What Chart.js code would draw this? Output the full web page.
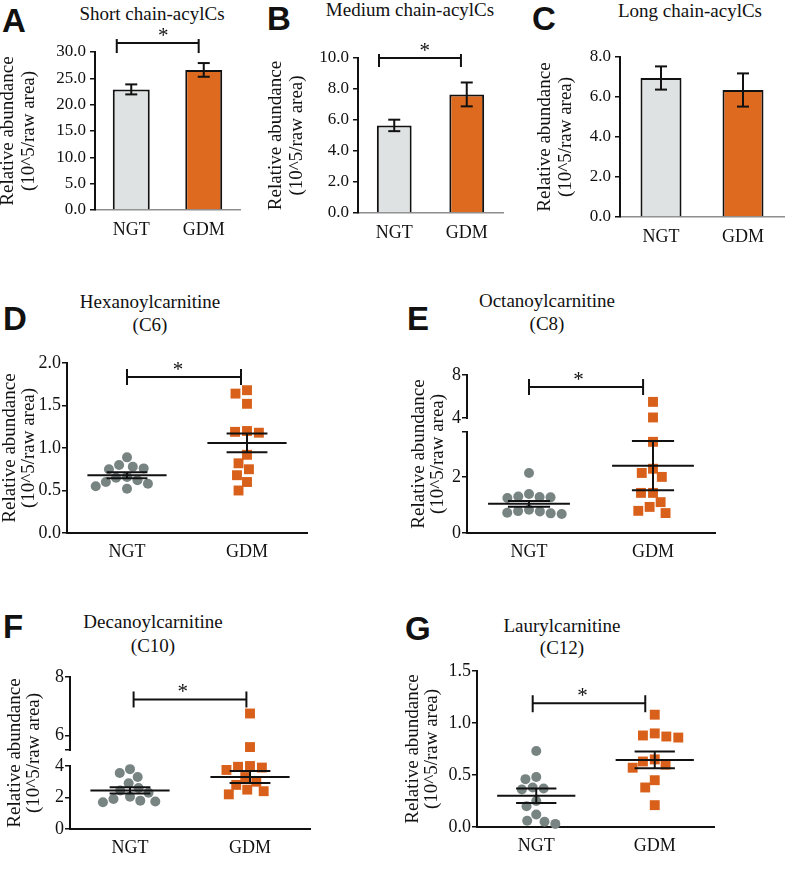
<!DOCTYPE html>
<html>
<head>
<meta charset="utf-8">
<title>Acylcarnitines NGT vs GDM</title>
<script src="https://cdn.jsdelivr.net/npm/chart.js@4.4.1/dist/chart.umd.min.js"></script>
<style>
  html, body { margin: 0; padding: 0; background: #fff; }
  #page { position: relative; width: 792px; height: 869px; overflow: hidden; background: #fff; }
  #page canvas { position: absolute; }
  .letter { position: absolute; font: bold 33px "Liberation Sans", Arial, sans-serif; line-height: 33px; color: #111; white-space: nowrap; }
  .title { position: absolute; font: 19px "Liberation Serif", "Times New Roman", serif; line-height: 19px; color: #111; white-space: nowrap; transform: translateX(-50%); }
</style>
</head>
<body>
<div id="page"></div>
<script>
const groups = ['NGT', 'GDM'];

// A-C bar panels: mean and SEM
const shortMean = [22.9, 26.6];
const shortSem = [0.95, 1.3];
const mediumMean = [5.65, 7.65];
const mediumSem = [0.37, 0.77];
const longMean = [6.95, 6.35];
const longSem = [0.58, 0.83];

// D-G dot plots: one value per subject, then mean and SEM
const c6Ngt = [0.89, 0.80, 0.78, 0.76, 0.75, 0.66, 0.65, 0.62, 0.60, 0.58, 0.55, 0.52];
const c6Gdm = [1.68, 1.64, 1.52, 1.20, 1.19, 1.18, 0.92, 0.82, 0.75, 0.68, 0.60, 0.50];
const c6Mean = [0.68, 1.06];
const c6Sem = [0.035, 0.11];

const c8Ngt = [2.14, 1.39, 1.30, 1.28, 1.27, 1.25, 0.83, 0.78, 0.77, 0.72, 0.70, 0.68];
const c8Gdm = [5.5, 4.05, 3.25, 2.29, 2.14, 2.0, 1.43, 1.43, 1.1, 0.93, 0.79, 0.71];
const c8Mean = [1.04, 2.4];
const c8Sem = [0.1, 0.88];

const c10Ngt = [3.8, 3.55, 3.3, 2.9, 2.6, 2.45, 2.3, 2.05, 1.9, 1.8, 1.75, 1.7];
const c10Gdm = [6.75, 5.6, 4.0, 3.95, 3.9, 3.75, 3.3, 3.0, 2.8, 2.5, 2.4, 2.2];
const c10Mean = [2.45, 3.3];
const c10Sem = [0.2, 0.38];

const c12Ngt = [0.73, 0.48, 0.46, 0.38, 0.37, 0.36, 0.25, 0.20, 0.12, 0.06, 0.05, 0.03];
const c12Gdm = [1.08, 0.90, 0.88, 0.87, 0.86, 0.65, 0.63, 0.60, 0.57, 0.45, 0.38, 0.21];
const c12Mean = [0.30, 0.645];
const c12Sem = [0.07, 0.08];

// y tick labels
const shortTicks = [0, 5, 10, 15, 20, 25, 30];
const mediumTicks = [0, 2, 4, 6, 8, 10];
const longTicks = [0, 2, 4, 6, 8];
const c6Ticks = [0, 0.5, 1, 1.5, 2];
const c8Ticks = [0, 2, 4, 8];
const c10Ticks = [0, 2, 4, 6, 8];
const c12Ticks = [0, 0.5, 1, 1.5];

const GRAY_BAR = '#dee2e2';
const ORANGE_BAR = '#de6a20';
const GRAY_DOT = '#788482';
const ORANGE_DOT = '#d9601a';
const INK = '#111';
const SERIF = '"Liberation Serif", "Times New Roman", serif';

Chart.defaults.font.family = SERIF;
Chart.defaults.color = INK;

// panel layout (positions in page pixels)
const panels = [
  { kind: 'bar', letter: 'A', at: [2, 32], titles: [['Short chain-acylCs', 152, 20]],
    mean: shortMean, sem: shortSem, ticks: shortTicks, barFrac: 0.51,
    box: { left: -2, top: 0, width: 264, height: 250, yW: 97, padTop: 52, padRight: 22, xH: 40, xPad: 9, tick: 17, tPad: 4, lh: 21 },
    sig: { x1: -0.2, x2: 0.93, y: 31.7, star: 0.44, up: 4, down: 10 } },
  { kind: 'bar', letter: 'B', at: [267, 30], titles: [['Medium chain-acylCs', 410, 16]],
    mean: mediumMean, sem: mediumSem, ticks: mediumTicks, barFrac: 0.48,
    box: { left: 266, top: 0, width: 250, height: 250, yW: 92, padTop: 58, padRight: 13, xH: 37, xPad: 9, tick: 17, tPad: 4, lh: 21 },
    sig: { x1: -0.21, x2: 0.92, y: 10.0, star: 0.42, up: 4, down: 9 } },
  { kind: 'bar', letter: 'C', at: [532, 30], titles: [['Long chain-acylCs', 690, 17]],
    mean: longMean, sem: longSem, ticks: longTicks, barFrac: 0.5,
    box: { left: 535, top: 0, width: 257, height: 250, yW: 85, padTop: 57, padRight: 8, xH: 33, xPad: 9, tick: 17, tPad: 4, lh: 21 } },
  { kind: 'dot', letter: 'D', at: [3, 330], titles: [['Hexanoylcarnitine', 150, 308], ['(C6)', 150, 331]],
    ngt: c6Ngt, gdm: c6Gdm, mean: c6Mean, sem: c6Sem, ticks: c6Ticks, dec: 1,
    segs: [{ lo: 0, hi: 2, px: 170 }], gap: 0,
    box: { left: 1, top: 250, width: 321, height: 320, yW: 66, padTop: 113, padRight: 15, xH: 37, xPad: 8, tick: 18, tPad: 1, lh: 19 },
    sig: { x1: 1.0, x2: 1.95, y: 1.835, star: 1.425, up: 8, down: 8 } },
  { kind: 'dot', letter: 'E', at: [407, 330], titles: [['Octanoylcarnitine', 547, 307], ['(C8)', 547, 330]],
    ngt: c8Ngt, gdm: c8Gdm, mean: c8Mean, sem: c8Sem, ticks: c8Ticks, dec: 0,
    segs: [{ lo: 0, hi: 3.6, px: 101 }, { lo: 4, hi: 8, px: 43 }], gap: 14,
    box: { left: 410, top: 250, width: 320, height: 320, yW: 57, padTop: 125, padRight: 15, xH: 37, xPad: 8, tick: 18, tPad: 1, lh: 19 },
    sig: { x1: 1.0, x2: 1.92, y: 6.88, star: 1.40, up: 8, down: 8 } },
  { kind: 'dot', letter: 'F', at: [3, 638], titles: [['Decanoylcarnitine', 153, 628], ['(C10)', 153, 652]],
    ngt: c10Ngt, gdm: c10Gdm, mean: c10Mean, sem: c10Sem, ticks: c10Ticks, dec: 0,
    segs: [{ lo: 0, hi: 4, px: 63 }, { lo: 5.5, hi: 8, px: 73 }], gap: 16,
    box: { left: 6, top: 560, width: 319, height: 305, yW: 64, padTop: 117, padRight: 15, xH: 36, xPad: 8, tick: 18, tPad: 1, lh: 19 },
    sig: { x1: 1.03, x2: 1.97, y: 7.23, star: 1.44, up: 8, down: 8 } },
  { kind: 'dot', letter: 'G', at: [405, 640], titles: [['Laurylcarnitine', 562, 632], ['(C12)', 562, 654]],
    ngt: c12Ngt, gdm: c12Gdm, mean: c12Mean, sem: c12Sem, ticks: c12Ticks, dec: 1,
    segs: [{ lo: 0, hi: 1.5, px: 156 }], gap: 0,
    box: { left: 404, top: 560, width: 325, height: 305, yW: 73, padTop: 111, padRight: 15, xH: 38, xPad: 8, tick: 18, tPad: 1, lh: 19 },
    sig: { x1: 0.97, x2: 1.92, y: 1.19, star: 1.39, up: 8, down: 9 } },
];

const page = document.getElementById('page');

// value -> axis units (pixels), skipping the break between segments
const makeAxisMap = (segs, gap) => (v) => {
  let base = 0;
  for (let i = 0; i < segs.length; i++) {
    const s = segs[i];
    if (v <= s.hi || i === segs.length - 1) return base + (v - s.lo) / (s.hi - s.lo) * s.px;
    base += s.px + gap;
  }
  return base;
};

// simple beeswarm: offsets in px so dots don't overlap
const swarm = (ys, diam) => {
  const order = ys.map((_, i) => i).sort((a, b) => ys[b] - ys[a]);
  const placed = [];
  const xs = [];
  order.forEach((i) => {
    const y = ys[i];
    const spans = placed
      .filter((q) => Math.abs(q.y - y) < diam)
      .map((q) => {
        const dx = Math.sqrt(diam * diam - (q.y - y) ** 2);
        return [q.x - dx, q.x + dx];
      });
    const cands = [0];
    spans.forEach(([a, b]) => cands.push(a, b));
    cands.sort((a, b) => Math.abs(a) - Math.abs(b) || a - b);
    const x = cands.find((c) => spans.every(([a, b]) => c <= a + 1e-6 || c >= b - 1e-6));
    xs[i] = x;
    placed.push({ x, y });
  });
  return xs;
};

const marks = (p) => ({
  id: 'marks' + p.letter,
  afterDatasetsDraw(chart) {
    const { ctx, chartArea } = chart;
    const x = chart.scales.x;
    const y = chart.scales.y;
    const line = (x1, y1, x2, y2) => {
      ctx.beginPath();
      ctx.moveTo(x1, y1);
      ctx.lineTo(x2, y2);
      ctx.stroke();
    };
    ctx.save();
    ctx.strokeStyle = INK;
    ctx.fillStyle = INK;
    ctx.lineWidth = 2;

    if (p.kind === 'bar') {
      p.mean.forEach((m, i) => {
        const cx = x.getPixelForValue(i);
        const top = y.getPixelForValue(m + p.sem[i]);
        const bot = y.getPixelForValue(m - p.sem[i]);
        line(cx, top, cx, bot);
        line(cx - 6, top, cx + 6, top);
        line(cx - 6, bot, cx + 6, bot);
      });
    } else {
      // y axis, one piece per segment
      p.segs.forEach((s) => {
        line(chartArea.left, y.getPixelForValue(p.u(s.lo)) + 1, chartArea.left, y.getPixelForValue(p.u(s.hi)) - 1);
      });
      // mean and SEM
      p.mean.forEach((m, i) => {
        const c = i + 1;
        const my = y.getPixelForValue(p.u(m));
        const top = y.getPixelForValue(p.u(m + p.sem[i]));
        const bot = y.getPixelForValue(p.u(m - p.sem[i]));
        line(x.getPixelForValue(c - 0.33), my, x.getPixelForValue(c + 0.33), my);
        line(x.getPixelForValue(c), top, x.getPixelForValue(c), bot);
        line(x.getPixelForValue(c - 0.17), top, x.getPixelForValue(c + 0.17), top);
        line(x.getPixelForValue(c - 0.17), bot, x.getPixelForValue(c + 0.17), bot);
      });
    }

    // significance bracket
    if (p.sig) {
      const s = p.sig;
      const by = y.getPixelForValue(p.u(s.y));
      const bx1 = x.getPixelForValue(s.x1);
      const bx2 = x.getPixelForValue(s.x2);
      line(bx1, by, bx2, by);
      line(bx1, by - s.up, bx1, by + s.down);
      line(bx2, by - s.up, bx2, by + s.down);
      ctx.font = '21px ' + SERIF;
      ctx.textAlign = 'center';
      ctx.textBaseline = 'alphabetic';
      ctx.fillText('*', x.getPixelForValue(s.star), by - 1);
    }
    ctx.restore();
  }
});

const yTitle = (b) => ({
  display: true,
  text: ['Relative abundance', '(10^5/raw area)'],
  font: { family: SERIF, size: 19, lineHeight: b.lh + 'px' },
  color: INK,
  padding: { top: 0, bottom: 0 }
});

const baseOptions = (b) => ({
  responsive: false,
  animation: false,
  devicePixelRatio: 1,
  layout: { padding: { top: b.padTop, right: b.padRight, left: 0, bottom: 0 } },
  plugins: { legend: { display: false }, tooltip: { enabled: false } },
  events: []
});

const buildBar = (p) => {
  const b = p.box;
  p.u = (v) => v;
  return {
    type: 'bar',
    data: {
      labels: groups,
      datasets: [{
        data: p.mean,
        backgroundColor: [GRAY_BAR, ORANGE_BAR],
        borderColor: INK,
        borderWidth: 2,
        barPercentage: 1,
        categoryPercentage: p.barFrac
      }]
    },
    options: {
      ...baseOptions(b),
      scales: {
        x: {
          type: 'category',
          offset: true,
          grid: { display: false, drawTicks: false },
          border: { display: true, color: '#8e8e8e', width: 1.5 },
          ticks: { font: { family: SERIF, size: 18 }, color: INK, padding: b.xPad },
          afterFit: (s) => { s.height = b.xH; }
        },
        y: {
          type: 'linear',
          min: 0,
          max: p.ticks[p.ticks.length - 1],
          bounds: 'data',
          grid: { drawOnChartArea: false, drawTicks: true, tickLength: 5, color: INK, lineWidth: 1.5 },
          border: { display: true, color: INK, width: 2 },
          ticks: { font: { family: SERIF, size: b.tick }, color: INK, padding: b.tPad, autoSkip: false, callback: (v) => Number(v).toFixed(1) },
          afterBuildTicks: (s) => { s.ticks = p.ticks.map((v) => ({ value: v })); },
          title: yTitle(b),
          afterFit: (s) => { s.width = b.yW; }
        }
      }
    },
    plugins: [marks(p)]
  };
};

const buildDot = (p) => {
  const b = p.box;
  p.u = makeAxisMap(p.segs, p.gap);
  const total = p.segs.reduce((acc, s) => acc + s.px, 0) + p.gap * (p.segs.length - 1);
  const pxPerX = (b.width - b.padRight - b.yW) / 2;

  // tick marks: labelled ticks plus the ends of each axis piece
  const tickVals = [...new Set([...p.ticks, ...p.segs.flatMap((s) => [s.lo, s.hi])])].sort((a, c) => a - c);
  const tickLabels = tickVals.map((v) => (p.ticks.includes(v) ? v.toFixed(p.dec) : ''));

  const points = (vals, group, diam) => {
    const ys = vals.map(p.u);
    const offs = swarm(ys, diam);
    return vals.map((v, i) => ({ x: group + offs[i] / pxPerX, y: p.u(v) }));
  };

  return {
    type: 'scatter',
    data: {
      datasets: [
        { data: points(p.ngt, 1, 11), pointStyle: 'circle', pointRadius: 5, backgroundColor: GRAY_DOT, borderWidth: 0, clip: false },
        { data: points(p.gdm, 2, 12), pointStyle: 'rect', pointRadius: 7, backgroundColor: ORANGE_DOT, borderWidth: 0, clip: false }
      ]
    },
    options: {
      ...baseOptions(b),
      scales: {
        x: {
          type: 'linear',
          min: 0.5,
          max: 2.5,
          bounds: 'data',
          grid: { display: false, drawTicks: false },
          border: { display: true, color: INK, width: 2 },
          ticks: { font: { family: SERIF, size: 18 }, color: INK, padding: b.xPad, autoSkip: false, callback: (v, i) => groups[i] },
          afterBuildTicks: (s) => { s.ticks = [{ value: 1 }, { value: 2 }]; },
          afterFit: (s) => { s.height = b.xH; }
        },
        y: {
          type: 'linear',
          min: 0,
          max: total,
          bounds: 'data',
          grid: { drawOnChartArea: false, drawTicks: true, tickLength: 5, color: INK, lineWidth: 1.5 },
          border: { display: false },
          ticks: { font: { family: SERIF, size: b.tick }, color: INK, padding: b.tPad, autoSkip: false, callback: (v, i) => tickLabels[i] },
          afterBuildTicks: (s) => { s.ticks = tickVals.map((v) => ({ value: p.u(v) })); },
          title: yTitle(b),
          afterFit: (s) => { s.width = b.yW; }
        }
      }
    },
    plugins: [marks(p)]
  };
};

const addText = (cls, text, left, top) => {
  const el = document.createElement('div');
  el.className = cls;
  el.textContent = text;
  el.style.left = left + 'px';
  el.style.top = top + 'px';
  page.appendChild(el);
};

panels.forEach((p) => {
  // panel letter and title (given by baseline)
  addText('letter', p.letter, p.at[0], p.at[1] - 28);
  p.titles.forEach(([t, cx, base]) => addText('title', t, cx, base - 16));

  const b = p.box;
  const cv = document.createElement('canvas');
  cv.width = b.width;
  cv.height = b.height;
  cv.style.left = b.left + 'px';
  cv.style.top = b.top + 'px';
  cv.style.width = b.width + 'px';
  cv.style.height = b.height + 'px';
  page.appendChild(cv);

  new Chart(cv, p.kind === 'bar' ? buildBar(p) : buildDot(p));
});
</script>
</body>
</html>
